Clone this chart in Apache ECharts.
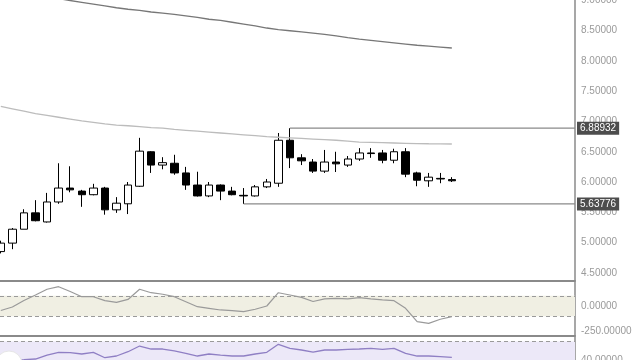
<!DOCTYPE html>
<html>
<head>
<meta charset="utf-8">
<script src="https://cdn.jsdelivr.net/npm/echarts@6/dist/echarts.min.js"></script>
<style>html,body{margin:0;padding:0;background:#fff}#c{width:640px;height:360px}</style>
</head>
<body>
<div id="c"></div>
<script>
// Candles: [open, close, low, high], one per bar index
const candles = [
  [4.85, 4.99, 4.82, 5.03],
  [4.99, 5.22, 4.89, 5.24],
  [5.22, 5.49, 5.22, 5.55],
  [5.49, 5.36, 5.35, 5.70],
  [5.34, 5.67, 5.33, 5.82],
  [5.67, 5.90, 5.64, 6.31],
  [5.90, 5.87, 5.83, 6.26],
  [5.85, 5.79, 5.59, 5.87],
  [5.79, 5.90, 5.78, 5.97],
  [5.90, 5.54, 5.46, 5.92],
  [5.54, 5.65, 5.49, 5.75],
  [5.64, 5.95, 5.47, 6.00],
  [5.93, 6.51, 5.92, 6.73],
  [6.50, 6.28, 6.15, 6.51],
  [6.28, 6.32, 6.21, 6.41],
  [6.31, 6.15, 6.12, 6.45],
  [6.15, 5.95, 5.87, 6.25],
  [5.95, 5.77, 5.76, 6.17],
  [5.77, 5.95, 5.75, 6.00],
  [5.95, 5.85, 5.70, 5.96],
  [5.85, 5.79, 5.78, 5.92],
  [5.78, 5.77, 5.63776, 5.90],
  [5.77, 5.92, 5.76, 5.95],
  [5.92, 6.00, 5.90, 6.05],
  [5.98, 6.69, 5.92, 6.81],
  [6.69, 6.40, 6.23, 6.88932],
  [6.40, 6.35, 6.28, 6.46],
  [6.33, 6.18, 6.15, 6.38],
  [6.18, 6.33, 6.15, 6.53],
  [6.33, 6.30, 6.165, 6.50],
  [6.28, 6.38, 6.25, 6.43],
  [6.38, 6.48, 6.35, 6.56],
  [6.48, 6.47, 6.40, 6.56],
  [6.48, 6.36, 6.31, 6.53],
  [6.36, 6.50, 6.31, 6.55],
  [6.50, 6.13, 6.08, 6.56],
  [6.15, 6.03, 5.93, 6.17],
  [6.02, 6.08, 5.92, 6.15],
  [6.06, 6.05, 5.98, 6.15],
  [6.04, 6.02, 6.00, 6.08]
];
const maSlow = [9.17, 9.14, 9.12, 9.09, 9.06, 9.03, 9.00, 8.97, 8.94, 8.91,
  8.88, 8.855, 8.835, 8.81, 8.79, 8.77, 8.745, 8.72, 8.69, 8.67,
  8.64, 8.61, 8.58, 8.545, 8.52, 8.50, 8.48, 8.46, 8.44, 8.415,
  8.385, 8.36, 8.34, 8.32, 8.30, 8.28, 8.26, 8.245, 8.23, 8.215];
const maFast = [7.25, 7.21, 7.17, 7.13, 7.10, 7.07, 7.04, 7.01, 6.985, 6.96,
  6.94, 6.93, 6.915, 6.90, 6.89, 6.87, 6.855, 6.84, 6.825, 6.81,
  6.795, 6.78, 6.765, 6.75, 6.74, 6.73, 6.72, 6.71, 6.70, 6.69,
  6.675, 6.66, 6.655, 6.65, 6.645, 6.64, 6.635, 6.632, 6.63, 6.628];
const cci = [-44, -10, 54, 108, 164, 189, 142, 91, 91, 52,
  36, 64, 164, 130, 115, 91, 42, -7, -23, -39,
  -46, -56, -32, 0, 130, 108, 85, 44, 69, 75,
  69, 81, 69, 59, 52, -23, -154, -170, -130, -105];
const rsi = [41, 40, 40.5, 41.6, 48.1, 52.5, 51.9, 49.8, 52.5, 43.7,
  46.5, 53.5, 62.8, 57.9, 57.9, 54.7, 50.9, 46.5, 49.8, 48.1,
  46.5, 46.5, 49.8, 52.5, 65.6, 59.1, 56.3, 53, 56.3, 56.3,
  57.4, 57.9, 59.1, 57.4, 59.1, 50.9, 46.5, 46.5, 45.4, 44.4];
const priceTicks = [4.5, 5.0, 5.5, 6.0, 6.5, 7.0, 7.5, 8.0, 8.5, 9.0];
const cciTicks = [0, -250];
const cciBand = [100, -100];
const rsiTicks = [40];
const rsiBand = [70, 40];
const highIdx = 25, highVal = 6.88932;
const lowIdx = 21, lowVal = 5.63776;

const xMin = -0.07, xMax = 49.65;
const fmt = v => Number(v).toFixed(5);
const labelStyle = {color: '#9a9a9a', fontSize: 10, fontFamily: 'Liberation Sans', margin: 6, formatter: fmt,
  verticalAlignMinLabel: 'middle', verticalAlignMaxLabel: 'middle', alignMinLabel: 'left', alignMaxLabel: 'left'};
const axisLineStyle = {show: true, onZero: false, lineStyle: {color: '#8a8a8a', width: 1.5}};

function xAx(gi, showLine) {
  return {type: 'value', gridIndex: gi, min: xMin, max: xMax, position: 'bottom',
    axisLine: {show: showLine, onZero: false, lineStyle: {color: '#8a8a8a', width: 2}},
    axisTick: {show: false}, axisLabel: {show: false}, splitLine: {show: false}};
}
function yAx(gi, min, max, ticks) {
  return {type: 'value', gridIndex: gi, position: 'right', min: min, max: max,
    axisLine: axisLineStyle, axisTick: {show: false},
    axisLabel: Object.assign({customValues: ticks, showMinLabel: true, showMaxLabel: true}, labelStyle),
    splitLine: {show: false}};
}

const chart = echarts.init(document.getElementById('c'), null, {renderer: 'canvas'});
const endLabel = {show: true, formatter: p => fmt(p.value[1]), backgroundColor: '#4d4d4d',
  color: '#ffffff', fontSize: 10, fontFamily: 'Liberation Sans', padding: [2, 3, 1, 3], distance: 2};

chart.setOption({
  animation: false,
  backgroundColor: '#ffffff',
  grid: [
    {left: 0, right: 65, top: 0, height: 281, outerBoundsMode: 'none'},
    {left: 0, right: 65, top: 282, height: 54, outerBoundsMode: 'none'},
    {left: 0, right: 65, top: 337, height: 23, outerBoundsMode: 'none'}
  ],
  xAxis: [xAx(0, true), xAx(1, true), xAx(2, false)],
  yAxis: [yAx(0, 4.364, 9.008, priceTicks), yAx(1, -294, 235, cciTicks), yAx(2, 40, 77.5, rsiTicks)],
  series: [
    {type: 'candlestick', xAxisIndex: 0, yAxisIndex: 0, barWidth: 8,
      data: candles.map((c, i) => [i, c[0], c[1], c[2], c[3]]),
      encode: {x: 0, y: [1, 2, 3, 4]},
      itemStyle: {color: '#ffffff', color0: '#000000', borderColor: '#000000', borderColor0: '#000000', borderColorDoji: '#000000', borderWidth: 1}},
    {type: 'line', xAxisIndex: 0, yAxisIndex: 0, showSymbol: false, symbol: 'none',
      data: maSlow.map((v, i) => [i, v]), lineStyle: {color: '#777777', width: 1.3}},
    {type: 'line', xAxisIndex: 0, yAxisIndex: 0, showSymbol: false, symbol: 'none',
      data: maFast.map((v, i) => [i, v]), lineStyle: {color: '#bcbcbc', width: 1.3}},
    {type: 'line', xAxisIndex: 0, yAxisIndex: 0, symbol: 'none', clip: false,
      data: [[highIdx, highVal], [xMax, highVal]], lineStyle: {color: '#8a8a8a', width: 1.3}, endLabel: endLabel},
    {type: 'line', xAxisIndex: 0, yAxisIndex: 0, symbol: 'none', clip: false,
      data: [[lowIdx, lowVal], [xMax, lowVal]], lineStyle: {color: '#8a8a8a', width: 1.3}, endLabel: endLabel},
    {type: 'line', xAxisIndex: 1, yAxisIndex: 1, symbol: 'none',
      data: cci.map((v, i) => [i, v]), lineStyle: {color: '#9a9a9a', width: 1.2},
      markArea: {silent: true, itemStyle: {color: '#f0efe3'}, data: [[{yAxis: cciBand[0]}, {yAxis: cciBand[1]}]]},
      markLine: {silent: true, symbol: 'none', label: {show: false},
        lineStyle: {color: '#9a9a9a', type: [4, 3], width: 1},
        data: cciBand.map(v => ({yAxis: v}))}},
    {type: 'line', xAxisIndex: 2, yAxisIndex: 2, symbol: 'none',
      data: rsi.map((v, i) => [i, v]), lineStyle: {color: '#8f7fc4', width: 1.3},
      markArea: {silent: true, itemStyle: {color: '#ece8f8'}, data: [[{yAxis: rsiBand[0]}, {yAxis: rsiBand[1]}]]},
      markLine: {silent: true, symbol: 'none', label: {show: false},
        lineStyle: {color: '#9a9a9a', type: [4, 3], width: 1},
        data: [{yAxis: rsiBand[0]}]}}
  ],
  graphic: [{type: 'circle', shape: {cx: 9, cy: 364, r: 13}, style: {fill: '#ffffff', stroke: '#e6e6e6', lineWidth: 1}, z: 100}]
});
</script>
</body>
</html>
